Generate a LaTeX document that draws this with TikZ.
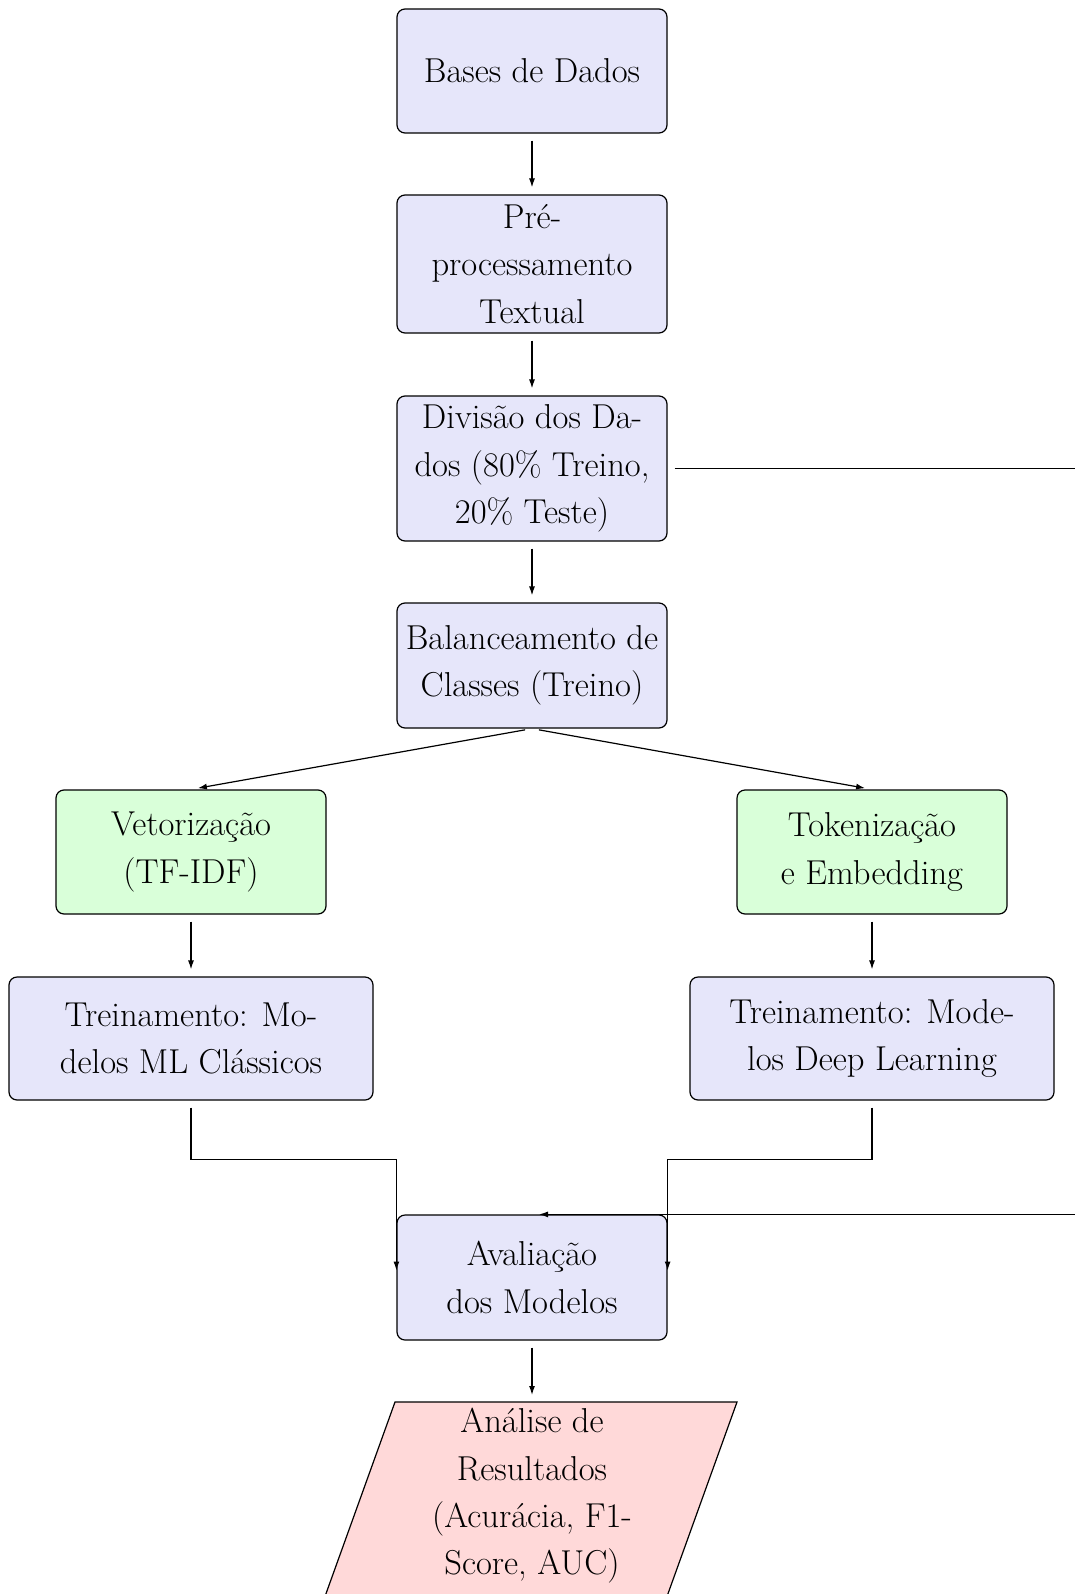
\documentclass[tikz,border=0pt]{standalone}
\usetikzlibrary{arrows.meta}
\definecolor{boxblue}{RGB}{230,230,250}
\definecolor{boxgreen}{RGB}{217,255,217}
\definecolor{boxpink}{RGB}{255,217,217}
\begin{document}
\begin{tikzpicture}[x=0.5pt,y=-0.5pt,
  txt/.style={align=center, inner sep=1pt, font=\fontsize{17.28}{23.65}\selectfont},
  proc/.style={txt, draw, rounded corners=4pt, fill=boxblue, line width=0.6pt, minimum width=135pt, minimum height=62pt},
  feat/.style={proc, fill=boxgreen},
  conn/.style={-{Latex[length=4.5pt,width=3pt]}, line width=0.6pt, shorten >=3.5pt, shorten <=3.5pt}]
\useasboundingbox (0,0) rectangle (1075,1594);

\node[proc] (bases) at (532,71) {Bases de Dados};
\node[proc, minimum height=69pt] (pre) at (532,264) {Pré-\\processamento\\Textual};
\node[proc, minimum height=72.5pt] (div) at (532,468.5) {Divisão dos Da-\\dos (80\% Treino,\\20\% Teste)};
\node[proc, minimum height=62.5pt] (bal) at (532,665.5) {Balanceamento de\\Classes (Treino)};
\node[feat] (vet) at (191,852) {Vetorização\\(TF-IDF)};
\node[feat] (tok) at (872,852) {Tokenização\\e Embedding};
\node[proc, minimum width=182pt, minimum height=61.5pt] (ml) at (191,1038.5) {Treinamento: Mo-\\delos ML Clássicos};
\node[proc, minimum width=182pt, minimum height=61.5pt] (dl) at (872,1038.5) {Treinamento: Mode-\\los Deep Learning};
\node[proc, minimum height=62.5pt] (aval) at (532,1277.5) {Avaliação\\dos Modelos};

\filldraw[fill=boxpink, line width=0.6pt] (395,1402) -- (737,1402) -- (665.7,1600) -- (323.7,1600) -- cycle;
\node[txt] (res) at (532,1496) {Análise de\\Resultados\\(Acurácia, F1-\\Score, AUC)};
\coordinate (resTop) at (532,1402);
\coordinate (farR) at (1120,468.5);

\draw[conn] (bases.south) -- (pre.north);
\draw[conn] (pre.south) -- (div.north);
\draw[conn] (div.south) -- (bal.north);
\draw[conn] (div.east) -- (farR) |- (aval.north);
\draw[conn] (bal.south) -- (vet.north);
\draw[conn] (bal.south) -- (tok.north);
\draw[conn] (vet.south) -- (ml.north);
\draw[conn] (tok.south) -- (dl.north);
\draw[conn] (ml.south) -- ++(0,58.5) -| (aval.west);
\draw[conn] (dl.south) -- ++(0,58.5) -| (aval.east);
\draw[conn] (aval.south) -- (resTop);
\end{tikzpicture}
\end{document}
